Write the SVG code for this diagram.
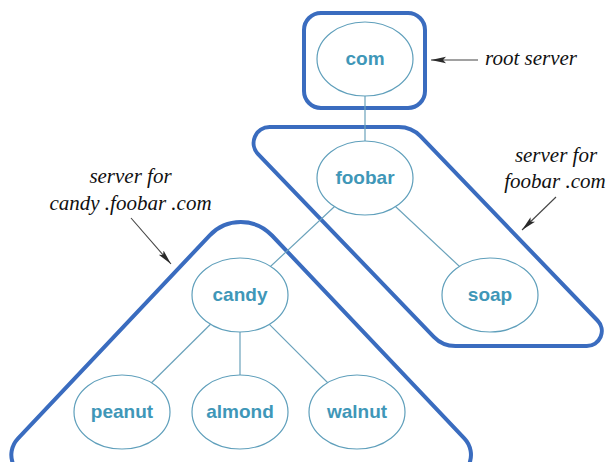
<svg xmlns="http://www.w3.org/2000/svg" width="609" height="462" viewBox="0 0 609 462">
<defs>
<style>
.zone{fill:none;stroke:#3a6cbf;stroke-width:4;stroke-linejoin:round}
.edge{stroke:#6aa2bb;stroke-width:1.2;fill:none}
.node ellipse{fill:#fff;stroke:#5f9fbb;stroke-width:1.2}
.node text{font-family:"Liberation Sans",Arial,sans-serif;font-weight:bold;font-size:19px;fill:#3f97b8;text-anchor:middle}
.note{font-family:"Liberation Serif","Times New Roman",serif;font-style:italic;font-size:21px;fill:#111}
.ptr{stroke:#444;stroke-width:1.1;fill:none;marker-end:url(#ah)}
</style>
<marker id="ah" markerUnits="userSpaceOnUse" markerWidth="16" markerHeight="8" refX="15" refY="4" orient="auto">
<path d="M0,0.8 L15,4 L0,7.2 L3,4 Z" fill="#2a2a2a"/>
</marker>
</defs>
<rect width="609" height="462" fill="#fff"/>
<g id="zones">
<rect id="zone-root" class="zone" x="304" y="13" width="121" height="95" rx="17"/>
<path id="zone-foobar" class="zone" d="M269.6,127 L398.7,127 A30,30 0 0 1 420.4,136.2 L597.5,320.5 A15,15 0 0 1 586.7,346 L455.5,346 A30,30 0 0 1 433.8,336.8 L258.1,154.1 A16,16 0 0 1 269.6,127 Z"/>
<path id="zone-candy" class="zone" d="M272,235.5 L464.3,438.4 A24,24 0 0 1 446.9,479 L35.4,479 A24,24 0 0 1 17.9,438.5 L209.5,235.6 A43,43 0 0 1 272,235.5 Z"/>
</g>
<g id="connectors">
<line class="edge" x1="365" y1="59" x2="365" y2="178"/>
<line class="edge" x1="365" y1="178" x2="240" y2="295"/>
<line class="edge" x1="365" y1="178" x2="490" y2="295"/>
<line class="edge" x1="240" y1="295" x2="122" y2="412"/>
<line class="edge" x1="240" y1="295" x2="240" y2="412"/>
<line class="edge" x1="240" y1="295" x2="357" y2="412"/>
</g>
<g id="node-com" class="node"><ellipse cx="365" cy="59" rx="48" ry="37"/><text x="365" y="65">com</text></g>
<g id="node-foobar" class="node"><ellipse cx="365" cy="178" rx="48" ry="37"/><text x="365" y="184">foobar</text></g>
<g id="node-soap" class="node"><ellipse cx="490" cy="295" rx="48" ry="37"/><text x="490" y="301">soap</text></g>
<g id="node-candy" class="node"><ellipse cx="240" cy="295" rx="48" ry="37"/><text x="240" y="301">candy</text></g>
<g id="node-peanut" class="node"><ellipse cx="122" cy="412" rx="48" ry="37"/><text x="122" y="418">peanut</text></g>
<g id="node-almond" class="node"><ellipse cx="240" cy="412" rx="48" ry="37"/><text x="240" y="418">almond</text></g>
<g id="node-walnut" class="node"><ellipse cx="357" cy="412" rx="48" ry="37"/><text x="357" y="418">walnut</text></g>
<g id="annotations">
<line class="ptr" x1="478" y1="60" x2="431" y2="60"/>
<text class="note" x="485" y="65">root server</text>
<line class="ptr" x1="556" y1="197" x2="522" y2="230"/>
<text class="note" x="556" y="162" text-anchor="middle">server for</text>
<text class="note" x="555" y="188" text-anchor="middle">foobar .com</text>
<line class="ptr" x1="131" y1="218" x2="171" y2="264"/>
<text class="note" x="130.5" y="183" text-anchor="middle">server for</text>
<text class="note" x="130.5" y="210" text-anchor="middle">candy .foobar .com</text>
</g>
</svg>
